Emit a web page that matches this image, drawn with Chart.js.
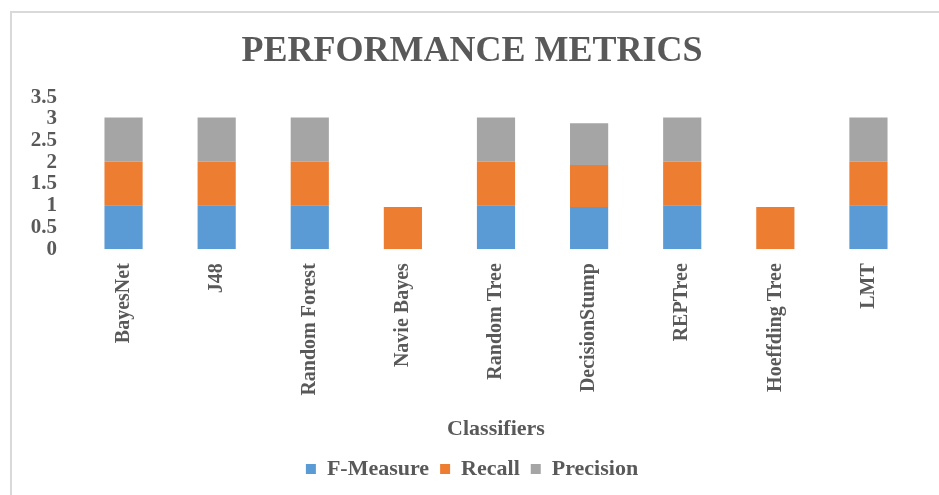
<!DOCTYPE html>
<html>
<head>
<meta charset="utf-8">
<script src="https://cdn.jsdelivr.net/npm/chart.js@4.4.0/dist/chart.umd.min.js"></script>
<style>
  body { margin: 0; background: #fff; }
  #wrap { position: relative; width: 939px; height: 495px; overflow: hidden; }
  #frame { position: absolute; left: 10px; top: 11px; width: 960px; height: 520px;
           border-top: 2px solid #d9d9d9; border-left: 2px solid #d9d9d9; }
  #myChart { position: relative; }
</style>
</head>
<body>
<div id="wrap">
  <div id="frame"></div>
  <canvas id="myChart"></canvas>
</div>
<script>
const categories = ['BayesNet', 'J48', 'Random Forest', 'Navie Bayes', 'Random Tree',
                    'DecisionStump', 'REPTree', 'Hoeffding Tree', 'LMT'];
const fMeasure  = [1.01, 1.01, 1.01, 0,    1.01, 0.97, 1.01, 0,    1.01];
const recall    = [1.01, 1.01, 1.01, 0.97, 1.01, 0.97, 1.01, 0.97, 1.01];
const precision = [1.01, 1.01, 1.01, 0,    1.01, 0.96, 1.01, 0,    1.01];
const yTicks = [0, 0.5, 1, 1.5, 2, 2.5, 3, 3.5];

const textColor = '#595959';
const serif = "'Liberation Serif', 'Times New Roman', serif";

const ctx = document.getElementById('myChart');

new Chart(ctx, {
  type: 'bar',
  data: {
    labels: categories,
    datasets: [
      { label: 'F-Measure', data: fMeasure, backgroundColor: '#5B9BD5' },
      { label: 'Recall', data: recall, backgroundColor: '#ED7D31' },
      { label: 'Precision', data: precision, backgroundColor: '#A5A5A5' },
    ],
  },
  options: {
    responsive: true,
    maintainAspectRatio: false,
    animation: false,
    categoryPercentage: 0.41,
    barPercentage: 1,
    layout: {
      padding: { left: 29, right: 24, top: 10, bottom: 5 },
    },
    scales: {
      x: {
        stacked: true,
        grid: { display: false, drawTicks: false },
        border: { display: false },
        ticks: {
          color: textColor,
          font: { family: serif, size: 20, weight: 'bold' },
          minRotation: 90,
          maxRotation: 90,
          padding: 14,
          autoSkip: false,
        },
        title: {
          display: true,
          text: 'Classifiers',
          color: textColor,
          font: { family: serif, size: 22, weight: 'bold' },
          padding: { top: 7, bottom: 4 },
        },
      },
      y: {
        stacked: true,
        min: 0,
        max: 3.5,
        grid: { display: false, drawTicks: false },
        border: { display: false },
        afterBuildTicks: (scale) => {
          scale.ticks = yTicks.map(v => ({ value: v }));
        },
        afterFit: (scale) => {
          scale.width = 48;
        },
        ticks: {
          color: textColor,
          font: { family: serif, size: 21, weight: 'bold' },
          padding: 20,
          autoSkip: false,
          callback: (v) => String(v),
        },
      },
    },
    plugins: {
      title: {
        display: true,
        text: 'PERFORMANCE METRICS',
        color: textColor,
        font: { family: serif, size: 36, weight: 'bold' },
        padding: { top: 20, bottom: 24 },
      },
      legend: {
        position: 'bottom',
        labels: {
          color: textColor,
          font: { family: serif, size: 22, weight: 'bold' },
          boxWidth: 10,
          boxHeight: 10,
          padding: 11,
        },
      },
      tooltip: { enabled: false },
    },
  },
});
</script>
</body>
</html>
